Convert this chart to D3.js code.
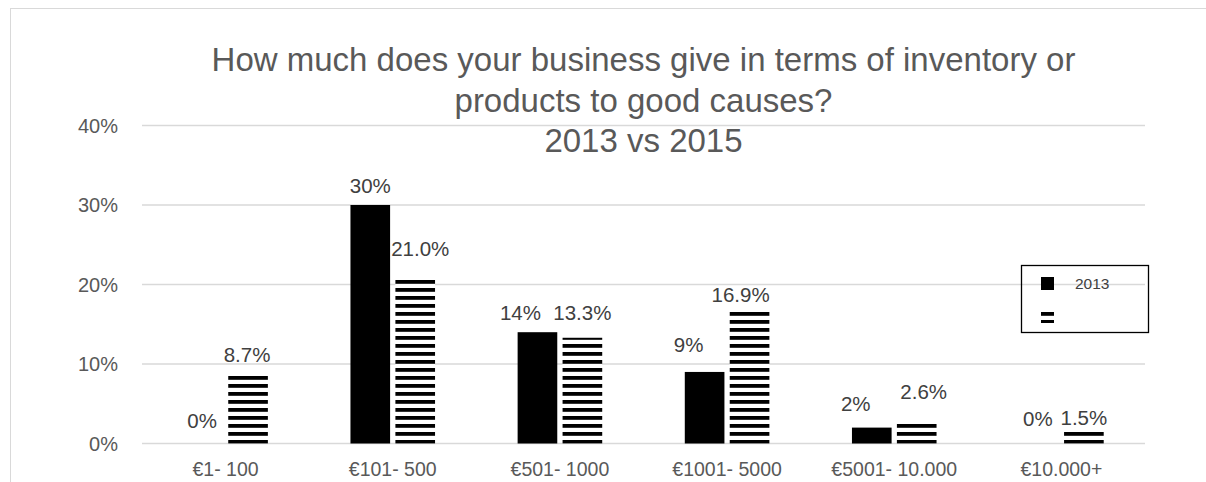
<!DOCTYPE html>
<html>
<head>
<meta charset="utf-8">
<script src="https://cdn.jsdelivr.net/npm/d3@7"></script>
<style>
  html, body { margin: 0; padding: 0; background: #fff; }
  svg { display: block; font-family: "Liberation Sans", Arial, sans-serif; }
</style>
</head>
<body>
<svg id="chart" width="1206" height="482"></svg>
<script>
// Donation bands (x axis)
const categories = ["€1- 100", "€101- 500", "€501- 1000", "€1001- 5000", "€5001- 10.000", "€10.000+"];
// Share of businesses per band, in percent
const values2013 = [0, 30, 14, 9, 2, 0];
const values2015 = [8.7, 21.0, 13.3, 16.9, 2.6, 1.5];
// Printed value labels
const labels2013 = ["0%", "30%", "14%", "9%", "2%", "0%"];
const labels2015 = ["8.7%", "21.0%", "13.3%", "16.9%", "2.6%", "1.5%"];
const seriesNames = ["2013", "2015"];
const legendText = ["2013", ""];
const yTicks = [0, 10, 20, 30, 40];
const titleLines = ["How much does your business give in terms of inventory or",
                    "products to good causes?",
                    "2013 vs 2015"];

// Label placement tweaks [dx, dy from bar top] per series
const nudge2013 = [[-1, -16], [0, -12], [-17, -12], [-16, -20], [-16, -17], [-1, -18]];
const nudge2015 = [[-1, -12], [5, -21], [0, -18], [-9, -7], [7, -24], [0, -7]];

const svg = d3.select("#chart");
const plot = { left: 142, right: 1145, top: 125.5, bottom: 443.5 };

// Chart area outline
svg.append("rect")
  .attr("x", 10.5).attr("y", 8.5)
  .attr("width", 1300).attr("height", 600)
  .attr("fill", "#fff").attr("stroke", "#d9d9d9").attr("stroke-width", 1);

// Horizontal stripe fill for the 2015 series
const defs = svg.append("defs");
const pat = defs.append("pattern")
  .attr("id", "stripes")
  .attr("patternUnits", "userSpaceOnUse")
  .attr("x", 0).attr("y", 0)
  .attr("width", 8).attr("height", 8);
pat.append("rect").attr("width", 8).attr("height", 8).attr("fill", "#fff");
pat.append("rect").attr("width", 8).attr("height", 3.8).attr("fill", "#000");

const x0 = d3.scaleBand()
  .domain(categories)
  .range([plot.left, plot.right])
  .paddingInner(0.494)
  .paddingOuter(0.247);

const x1 = d3.scaleBand()
  .domain(seriesNames)
  .range([0, x0.bandwidth()])
  .paddingInner(0.118);

const y = d3.scaleLinear()
  .domain([0, 40])
  .range([plot.bottom, plot.top]);

// Gridlines
svg.append("g")
  .selectAll("line")
  .data(yTicks)
  .join("line")
  .attr("x1", plot.left).attr("x2", plot.right)
  .attr("y1", d => y(d)).attr("y2", d => y(d))
  .attr("stroke", "#d9d9d9").attr("stroke-width", 1.3);

// Y tick labels
svg.append("g")
  .selectAll("text")
  .data(yTicks)
  .join("text")
  .attr("x", 118).attr("y", d => y(d))
  .attr("dy", "0.35em")
  .attr("text-anchor", "end")
  .attr("fill", "#595959")
  .attr("font-size", 20)
  .text(d => d + "%");

// X tick labels
svg.append("g")
  .selectAll("text")
  .data(categories)
  .join("text")
  .attr("x", d => x0(d) + x0.bandwidth() / 2)
  .attr("y", 476)
  .attr("text-anchor", "middle")
  .attr("fill", "#595959")
  .attr("font-size", 19.5)
  .text(d => d);

const series = [
  { name: "2013", values: values2013, labels: labels2013, nudge: nudge2013, fill: "#000" },
  { name: "2015", values: values2015, labels: labels2015, nudge: nudge2015, fill: "url(#stripes)" }
];

series.forEach(s => {
  const g = svg.append("g");
  g.selectAll("rect")
    .data(s.values)
    .join("rect")
    .attr("x", (d, i) => x0(categories[i]) + x1(s.name))
    .attr("width", x1.bandwidth())
    .attr("y", d => y(d))
    .attr("height", d => y(0) - y(d))
    .attr("fill", s.fill);

  g.selectAll("text")
    .data(s.values)
    .join("text")
    .attr("x", (d, i) => x0(categories[i]) + x1(s.name) + x1.bandwidth() / 2 + s.nudge[i][0])
    .attr("y", (d, i) => y(d) + s.nudge[i][1])
    .attr("text-anchor", "middle")
    .attr("fill", "#404040")
    .attr("font-size", 20.5)
    .text((d, i) => s.labels[i]);
});

// Title
svg.append("g")
  .selectAll("text")
  .data(titleLines)
  .join("text")
  .attr("x", (plot.left + plot.right) / 2)
  .attr("y", (d, i) => 71 + i * 40.5)
  .attr("text-anchor", "middle")
  .attr("fill", "#595959")
  .attr("font-size", 33)
  .text(d => d);

// Legend (no fill, gridline shows through)
const legend = svg.append("g");
legend.append("rect")
  .attr("x", 1021.5).attr("y", 265.5)
  .attr("width", 127).attr("height", 67)
  .attr("fill", "none").attr("stroke", "#000").attr("stroke-width", 1.3);
const legendFills = ["#000", "url(#stripes)"];
const legendRows = [277, 310];
legendText.forEach((t, i) => {
  legend.append("rect")
    .attr("x", 1041).attr("y", legendRows[i])
    .attr("width", 13).attr("height", 13)
    .attr("fill", legendFills[i]);
  legend.append("text")
    .attr("x", 1075).attr("y", legendRows[i] + 6.5)
    .attr("dy", "0.35em")
    .attr("fill", "#404040")
    .attr("font-size", 15.5)
    .text(t);
});
</script>
</body>
</html>
